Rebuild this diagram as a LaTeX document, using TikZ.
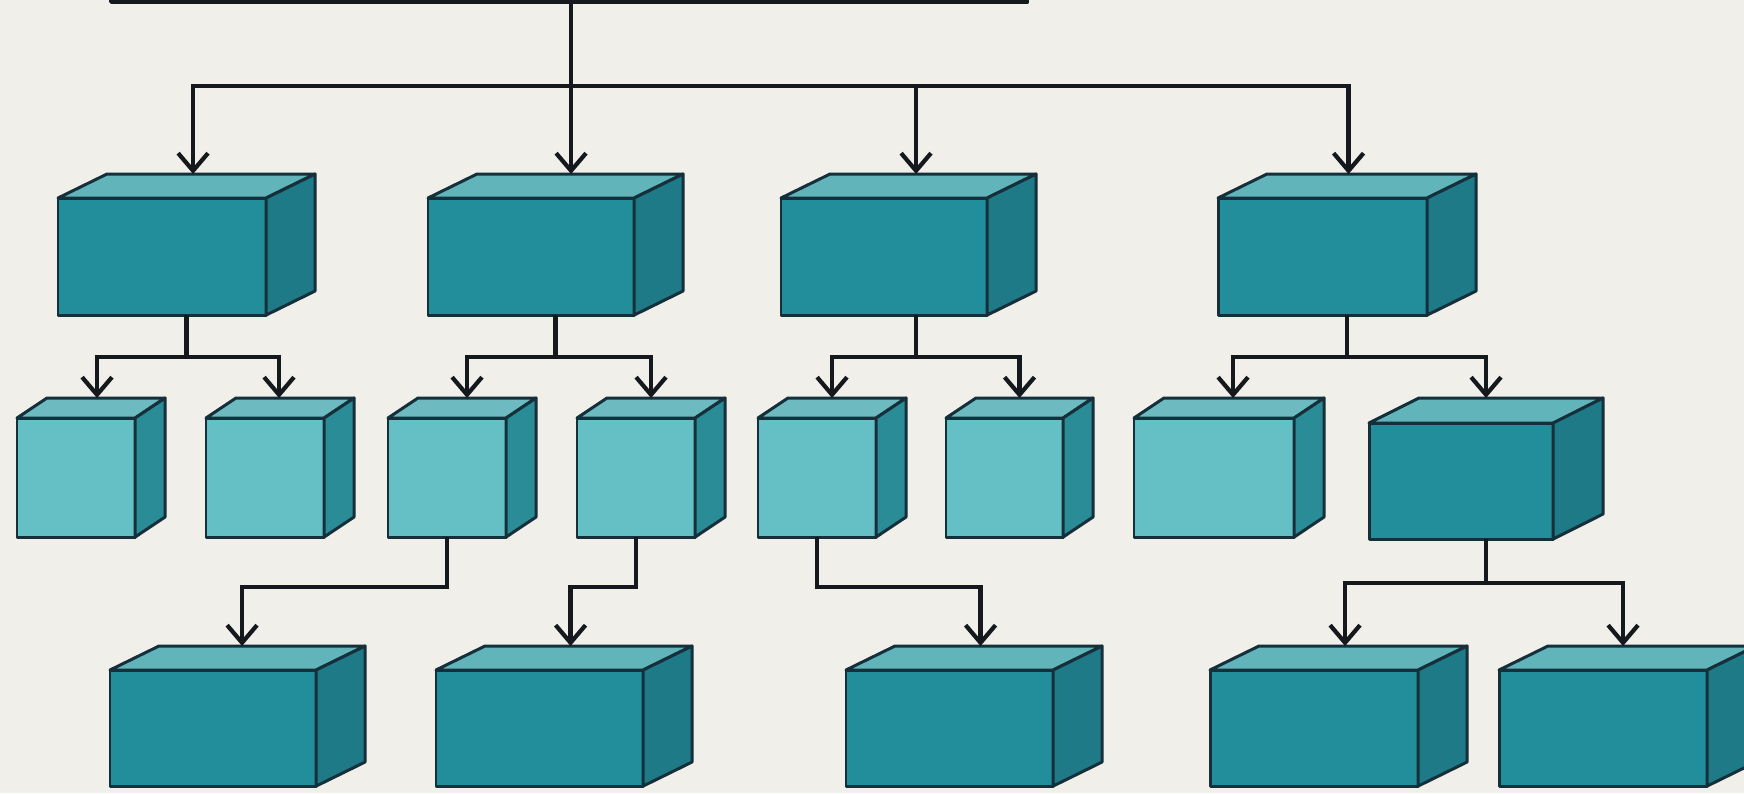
\documentclass[tikz,border=0pt]{standalone}
\usetikzlibrary{arrows.meta,calc}
\definecolor{bg}{HTML}{F0EFEA}
\definecolor{frontdk}{HTML}{238E9B}
\definecolor{topdk}{HTML}{62B4BB}
\definecolor{sidedk}{HTML}{1D7A86}
\definecolor{frontlt}{HTML}{64C0C5}
\definecolor{toplt}{HTML}{6DBBC0}
\definecolor{sidelt}{HTML}{2A8C96}
\definecolor{edge}{HTML}{15303A}
\definecolor{wire}{HTML}{15181C}
\tikzset{
  face/.style={draw=edge,line width=0.85pt,line join=round},
  frontface/.style={face,inner sep=0pt,outer sep=0pt,rectangle},
  wireline/.style={draw=wire,line width=1.2pt,line join=miter},
  conn/.style={wireline,-{Straight Barb[length=5pt,width=8.5pt,line width=1.2pt]}}
}
% #1 name, #2 x, #3 y, #4 w, #5 h, #6 dx, #7 dy, #8 palette, #9 top offset
\newcommand\cuboid[9]{%
  \node[frontface,fill=front#8,minimum width=#4*0.1mm,minimum height=#5*0.1mm,anchor=north west] (#1) at (#2,#3) {};
  \draw[face,fill=top#8] (#1.north west) -- ++(#6,-#7) -- ++(#4,0) -- (#1.north east) -- cycle;
  \draw[face,fill=side#8] (#1.north east) -- ++(#6,-#7) -- ++(0,#5) -- (#1.south east) -- cycle;
  \coordinate (#1-t) at ($(#1.north)+(#9,-#7)$);
  \coordinate (#1-b) at ($(#1.south)+(#6/2,0)$);
}
\begin{document}
\begin{tikzpicture}[x=0.01cm,y=-0.01cm]
\useasboundingbox (0,0) rectangle (1744,793);
\clip (0,0) rectangle (1744,793);
\fill[bg] (0,0) rectangle (1744,793);
% root (only its bottom edge shows)
\node[frontface,fill=frontdk,draw=wire,line width=1pt,minimum width=916*0.1mm,minimum height=100*0.1mm,anchor=south west] (root) at (111,2) {};
% level 1
\cuboid{B1}{58}{198}{208}{117}{49}{24}{dk}{31}
\cuboid{B2}{428}{198}{206}{117}{49}{24}{dk}{40}
\cuboid{B3}{781}{198}{206}{117}{49}{24}{dk}{32}
\cuboid{B4}{1218}{198}{209}{117}{49}{24}{dk}{26}
% level 2
\cuboid{L2a}{17}{418}{118}{119}{30}{20}{lt}{21}
\cuboid{L2b}{206}{418}{118}{119}{30}{20}{lt}{14}
\cuboid{L2c}{388}{418}{118}{119}{30}{20}{lt}{20}
\cuboid{L2d}{577}{418}{118}{119}{30}{20}{lt}{15}
\cuboid{L2e}{758}{418}{118}{119}{30}{20}{lt}{15}
\cuboid{L2f}{946}{418}{117}{119}{30}{20}{lt}{15}
\cuboid{L2g}{1134}{418}{160}{119}{30}{20}{lt}{19}
\cuboid{L2h}{1369}{423}{184}{116}{50}{25}{dk}{25}
% level 3
\cuboid{L3a}{110}{670}{206}{116}{49}{24}{dk}{29}
\cuboid{L3b}{436}{670}{207}{116}{49}{24}{dk}{31}
\cuboid{L3c}{846}{670}{207}{116}{49}{24}{dk}{31}
\cuboid{L3d}{1210}{670}{208}{116}{49}{24}{dk}{31}
\cuboid{L3e}{1499}{670}{208}{116}{49}{24}{dk}{20}
% bus levels
\coordinate (h0) at (0,86);
\coordinate (h1) at (0,357);
\coordinate (h2) at (0,587);
\coordinate (h3) at (0,583);
% root to level 1
\draw[conn] (root.south -| B2-t) -- (B2-t);
\draw[conn] (h0 -| B2-t) -| (B1-t);
\draw[conn] (h0 -| B2-t) -| (B3-t);
\draw[conn] (h0 -| B3-t) -| (B4-t);
% level 1 to level 2
\draw[wireline] (B1-b) -- (h1 -| B1-b);
\draw[conn] (h1 -| B1-b) -| (L2a-t);
\draw[conn] (h1 -| B1-b) -| (L2b-t);
\draw[wireline] (B2-b) -- (h1 -| B2-b);
\draw[conn] (h1 -| B2-b) -| (L2c-t);
\draw[conn] (h1 -| B2-b) -| (L2d-t);
\draw[wireline] (B3-t |- B3.south) -- (h1 -| B3-t);
\draw[conn] (h1 -| B3-t) -| (L2e-t);
\draw[conn] (h1 -| B3-t) -| (L2f-t);
\draw[wireline] (B4-b) -- (h1 -| B4-b);
\draw[conn] (h1 -| B4-b) -| (L2g-t);
\draw[conn] (h1 -| B4-b) -| (L2h-t);
% level 2 to level 3
\draw[conn] (L2c.south) -- (h2 -| L2c.south) -| (L3a-t);
\draw[conn] (L2d.south) -- (h2 -| L2d.south) -| (L3b-t);
\draw[conn] (L2e.south) -- (h2 -| L2e.south) -| (L3c-t);
\draw[wireline] (L2h-b) -- (h3 -| L2h-b);
\draw[conn] (h3 -| L2h-b) -| (L3d-t);
\draw[conn] (h3 -| L2h-b) -| (L3e-t);
\end{tikzpicture}
\end{document}
